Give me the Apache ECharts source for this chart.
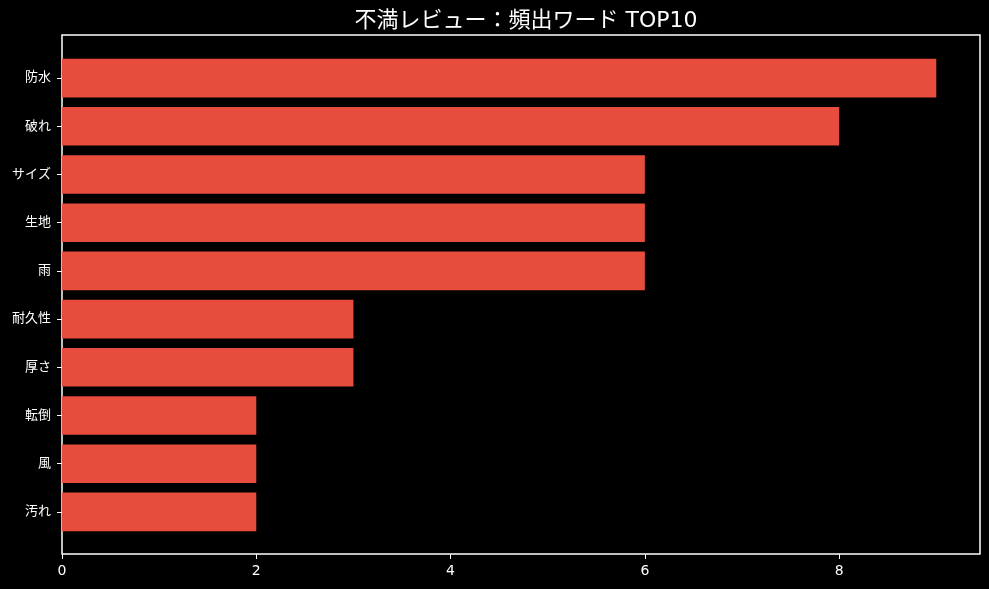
<!DOCTYPE html>
<html lang="ja">
<head>
    <meta charset="UTF-8">
    <title>不満レビュー</title>
    <script src="https://cdn.jsdelivr.net/npm/echarts@6/dist/echarts.min.js"></script>
</head>
<body style="margin: 0; background: #000;">
<div id="container" style="width: 989px; height: 589px;"></div>
<script type="text/javascript">

    // 頻出ワード（上から順）
    let words = ['防水', '破れ', 'サイズ', '生地', '雨', '耐久性', '厚さ', '転倒', '風', '汚れ'];
    let counts = [9, 8, 6, 6, 6, 3, 3, 2, 2, 2];
    let xTicks = [0, 2, 4, 6, 8];

    let font = '"DejaVu Sans", "Noto Sans CJK JP", sans-serif';

    let chart = {
        paint: function () {
            let dom = document.getElementById("container");
            let myChart = echarts.init(dom);

            let option = {
                backgroundColor: '#000',
                animation: false,
                title: {
                    text: '不満レビュー：頻出ワード TOP10',
                    left: 521,
                    top: 5,
                    textAlign: 'center',
                    textStyle: {color: '#fff', fontSize: 22, fontWeight: 'normal', fontFamily: font}
                },
                grid: [
                    // 枠と x 軸
                    {left: 62, right: 9, top: 35, bottom: 35, show: true, borderColor: '#fff', borderWidth: 1.5, backgroundColor: '#000'},
                    // バー
                    {left: 62, right: 9, top: 54, bottom: 53}
                ],
                xAxis: [{
                    gridIndex: 0,
                    type: 'value',
                    min: 0,
                    max: 9.45,
                    interval: 2,
                    axisLine: {show: false},
                    splitLine: {show: false},
                    axisTick: {show: true, length: 5, inside: false, lineStyle: {color: '#fff'}, customValues: xTicks},
                    axisLabel: {color: '#fff', fontSize: 14, fontFamily: font, margin: 10, showMaxLabel: false}
                }, {
                    gridIndex: 1,
                    type: 'value',
                    min: 0,
                    max: 9.45,
                    show: false
                }],
                yAxis: [{
                    gridIndex: 0,
                    type: 'value',
                    show: false
                }, {
                    gridIndex: 1,
                    type: 'category',
                    inverse: true,
                    data: words,
                    axisLine: {show: false},
                    axisTick: {show: true, alignWithLabel: true, length: 5, lineStyle: {color: '#fff'}},
                    axisLabel: {color: '#fff', fontSize: 13, fontFamily: font, margin: 11}
                }],
                series: [{
                    type: 'bar',
                    xAxisIndex: 1,
                    yAxisIndex: 1,
                    data: counts,
                    barCategoryGap: '20%',
                    itemStyle: {color: '#E74C3C'}
                }]
            };
            myChart.setOption(option, true);
        }
    };

    chart.paint();

</script>
</body>
</html>
